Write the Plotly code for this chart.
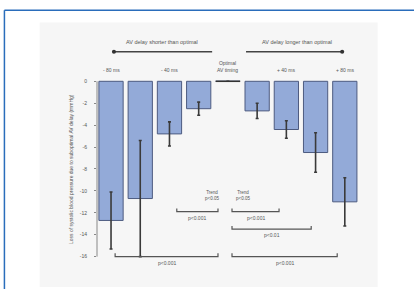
import plotly.graph_objects as go

# ---- data ----
categories = ["-80 ms", "-60 ms", "-40 ms", "-20 ms", "Optimal AV timing",
              "+20 ms", "+40 ms", "+60 ms", "+80 ms"]
top_labels = ["- 80 ms", "", "- 40 ms", "", "Optimal<br>AV timing",
              "", "+ 40 ms", "", "+ 80 ms"]
values = [-12.7, -10.7, -4.8, -2.5, 0.0, -2.7, -4.4, -6.5, -11.0]
errors = [2.6, 5.3, 1.1, 0.6, 0.0, 0.7, 0.8, 1.8, 2.2]
y_ticks = [0, -2, -4, -6, -8, -10, -12, -14, -16]
y_title = "Loss of systolic blood pressure due to suboptimal AV delay (mmHg)"
header_left = "AV delay shorter than optimal"
header_right = "AV delay longer than optimal"
# significance comparisons: (x0, x1, y, label)
brackets = [
    (0.14, 3.66, -16.0, "p<0.001"),
    (4.14, 7.74, -16.0, "p<0.001"),
    (2.25, 3.66, -11.9, "p<0.001"),
    (4.14, 5.75, -11.9, "p<0.001"),
    (4.14, 6.85, -13.5, "p<0.01"),
]
trend_labels = [(3.45, "Trend<br>p<0.05"), (4.5, "Trend<br>p<0.05")]

FONT = "Liberation Sans, Arial, sans-serif"
TXT = "#555555"
x = list(range(len(categories)))

fig = go.Figure()
fig.add_trace(go.Bar(
    x=x, y=values, width=0.83,
    marker=dict(color="#93aad8", line=dict(color="#4d5b80", width=1)),
    error_y=dict(type="data", array=errors, color="#3a3a3a", thickness=1.6, width=1.5),
    hoverinfo="skip",
))

shapes = []
# outer panel and blue frame
shapes.append(dict(type="rect", xref="paper", yref="paper", x0=-0.218, x1=1.067,
                   y0=-0.012, y1=1.038, fillcolor="#f6f6f6", line=dict(width=0), layer="below"))
shapes.append(dict(type="line", xref="paper", yref="paper", x0=-0.352, x1=1.3,
                   y0=1.086, y1=1.086, line=dict(color="#2a6dbb", width=1.5)))
shapes.append(dict(type="line", xref="paper", yref="paper", x0=-0.352, x1=-0.352,
                   y0=-0.1, y1=1.086, line=dict(color="#2a6dbb", width=1.5)))
# y axis line from 0 to -16
shapes.append(dict(type="line", xref="paper", yref="y", x0=0, x1=0,
                   y0=y_ticks[0], y1=y_ticks[-1], line=dict(color="#888888", width=1)))
# optimal marker at 0
oi = values.index(0.0)
shapes.append(dict(type="line", xref="x", yref="y", x0=oi - 0.42, x1=oi + 0.42,
                   y0=values[oi], y1=values[oi], line=dict(color="#333333", width=1.5)))
# header arrows
shapes.append(dict(type="line", xref="x", yref="y", x0=0.1, x1=3.46, y0=2.7, y1=2.7,
                   line=dict(color="#444444", width=1.6)))
shapes.append(dict(type="line", xref="x", yref="y", x0=4.62, x1=7.91, y0=2.7, y1=2.7,
                   line=dict(color="#444444", width=1.6)))
for cx in (0.1, 7.91):
    shapes.append(dict(type="circle", xref="x", yref="y", x0=cx - 0.07, x1=cx + 0.07,
                       y0=2.7 - 0.18, y1=2.7 + 0.18, fillcolor="#333333", line=dict(width=0)))

annotations = []
for (x0, x1, yb, lab) in brackets:
    shapes.append(dict(type="path", xref="x", yref="y",
                       path=f"M {x0},{yb+0.3} L {x0},{yb} L {x1},{yb} L {x1},{yb+0.3}",
                       line=dict(color="#555555", width=1.2)))
    annotations.append(dict(x=(x0 + x1) / 2, y=yb - 0.55, xref="x", yref="y", text=lab,
                            showarrow=False, font=dict(size=5, color=TXT, family=FONT)))
for (tx, lab) in trend_labels:
    annotations.append(dict(x=tx, y=-10.4, xref="x", yref="y", text=lab, showarrow=False,
                            font=dict(size=4.5, color=TXT, family=FONT)))

for i, lab in enumerate(top_labels):
    if lab:
        annotations.append(dict(x=x[i], y=0.55, xref="x", yref="y", text=lab, showarrow=False,
                                yanchor="bottom", font=dict(size=5, color=TXT, family=FONT)))
annotations.append(dict(x=1.75, y=3.55, xref="x", yref="y", text=header_left, showarrow=False,
                        font=dict(size=5.5, color=TXT, family=FONT)))
annotations.append(dict(x=6.35, y=3.55, xref="x", yref="y", text=header_right, showarrow=False,
                        font=dict(size=5.5, color=TXT, family=FONT)))
annotations.append(dict(x=0, y=-8, xref="paper", yref="y", xshift=-31, text=y_title,
                        textangle=-90, showarrow=False,
                        font=dict(size=5, color=TXT, family=FONT)))

fig.update_layout(
    width=414, height=289,
    margin=dict(l=97.4, r=53.8, t=31.5, b=4.5, pad=0),
    paper_bgcolor="white", plot_bgcolor="rgba(0,0,0,0)",
    showlegend=False, hovermode=False,
    xaxis=dict(range=[-0.48, 8.52], showticklabels=False, showgrid=False,
               zeroline=False, showline=False, ticks="", fixedrange=True),
    yaxis=dict(range=[-18.5, 4.5], tickvals=y_ticks, ticktext=[str(v) for v in y_ticks],
               showgrid=False, zeroline=False, showline=False, ticks="outside",
               ticklen=2, tickcolor="#888888", ticklabelstandoff=6, fixedrange=True,
               tickfont=dict(size=5, color=TXT, family=FONT)),
    shapes=shapes, annotations=annotations,
)
fig.write_html("out.html",
               config={"displayModeBar": False, "staticPlot": True},
               post_script="document.body.style.margin='0';document.body.style.overflow='hidden';")
